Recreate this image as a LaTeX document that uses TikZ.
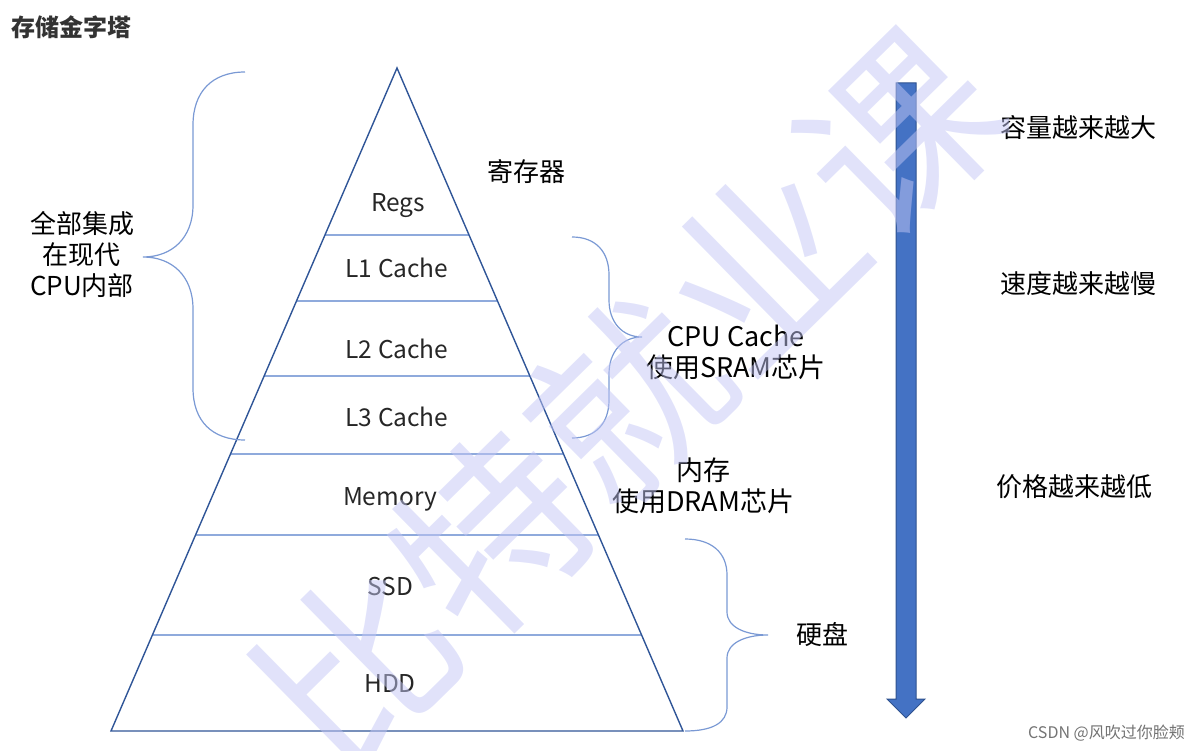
\documentclass[tikz,border=0pt]{standalone}
\usepackage{fontspec}
\setmainfont{Noto Sans CJK SC}
\usetikzlibrary{calc,positioning}
\definecolor{pyrline}{RGB}{47,85,151}
\definecolor{levelline}{RGB}{143,170,220}
\definecolor{braceblue}{RGB}{122,153,212}
\definecolor{barfill}{RGB}{68,114,196}
\definecolor{barline}{RGB}{47,82,143}
\definecolor{marklav}{RGB}{195,198,245}
\definecolor{titlegray}{RGB}{51,51,51}
\tikzset{
    % pyramid outline and level lines
    pyramid/.style={draw=pyrline, line width=1.4pt, line join=miter},
    level/.style={draw=levelline, line width=1.6pt},
    % curly brackets
    bracket/.style={draw=braceblue, line width=1.2pt},
    % block arrow
    bararrow/.style={fill=barfill, draw=barline, line width=1pt},
}
\begin{document}
\begin{tikzpicture}[x=1pt,y=-1pt,
   lab/.style={font=\fontsize{24.5}{29}\selectfont,text=black!85,inner sep=0pt,anchor=base},
   note/.style={font=\fontsize{26}{31}\selectfont,text=black,align=center,inner sep=0pt}]
  \useasboundingbox (0,0) rectangle (1199,751);

  % title
  \node[font=\fontsize{24}{29}\selectfont\bfseries,text=titlegray,anchor=west,inner sep=0pt]
     (title) at (11,27) {存储金字塔};

  % the pyramid
  \coordinate (apex) at (397,68);
  \coordinate (bl) at (111,731);
  \coordinate (br) at (683,731);
  \foreach \y in {235,301,376,454,535,635}
    \draw[level] ($(apex)!{(\y-68)/663}!(bl)$) -- ($(apex)!{(\y-68)/663}!(br)$);
  \draw[pyramid] (apex) -- (bl) -- (br) -- cycle;

  % levels
  \node[lab] (regs) at (398,212) {Regs};
  \node[lab] (l1)   at (397,278) {L1 Cache};
  \node[lab] (l2)   at (397,358) {L2 Cache};
  \node[lab] (l3)   at (397,426) {L3 Cache};
  \node[lab] (mem)  at (390,505) {Memory};
  \node[lab] (ssd)  at (390,595) {SSD};
  \node[lab] (hdd)  at (390,692) {HDD};

  % brackets
  \draw[bracket] (245,72) .. controls (212,72) and (193,92) .. (193,125) -- (193,205)
     .. controls (193,238) and (172,257) .. (143,257)
     .. controls (172,257) and (193,276) .. (193,309) -- (193,388)
     .. controls (193,421) and (212,440) .. (245,440);
  \draw[bracket] (572,237) .. controls (596,237) and (609,252) .. (609,275) -- (609,300)
     .. controls (609,322) and (622,337) .. (642,337)
     .. controls (622,337) and (609,352) .. (609,374) -- (609,400)
     .. controls (609,423) and (596,438) .. (572,438);
  \draw[bracket] (685,539) .. controls (712,539) and (727,553) .. (727,575) -- (727,612)
     .. controls (727,627) and (745,635) .. (768,635)
     .. controls (745,635) and (727,643) .. (727,658) -- (727,707)
     .. controls (727,723) and (712,731) .. (685,731);

  % side notes
  \node[note] (inside) at (82,255)  {全部集成\\在现代\\CPU内部};
  \node[note] (reg)    at (526,172) {寄存器};
  \node[note,font=\fontsize{27}{31}\selectfont] (sram) at (736,352) {CPU Cache\\使用SRAM芯片};
  \node[note,font=\fontsize{27}{31}\selectfont] (dram) at (703,486) {内存\\使用DRAM芯片};
  \node[note] (disk)   at (822,635) {硬盘};

  % the arrow and its trends
  \filldraw[bararrow] (896,83) -- (916,83) -- (916,699) -- (925,699) -- (906,718)
     -- (887,699) -- (896,699) -- cycle;
  \node[note] (cap)   at (1078,128) {容量越来越大};
  \node[note] (speed) at (1078,284) {速度越来越慢};
  \node[note] (price) at (1074,487) {价格越来越低};

  % watermarks
  \node[font=\fontsize{190}{190}\selectfont,text=marklav,text opacity=0.5,rotate=44.5]
     (mark) at (628,400) {比特就业课};
  \node[font=\fontsize{16}{16}\selectfont,text=black!55,anchor=east,inner sep=0pt]
     (csdn) at (1185,733) {CSDN @风吹过你脸颊};
\end{tikzpicture}
\end{document}
